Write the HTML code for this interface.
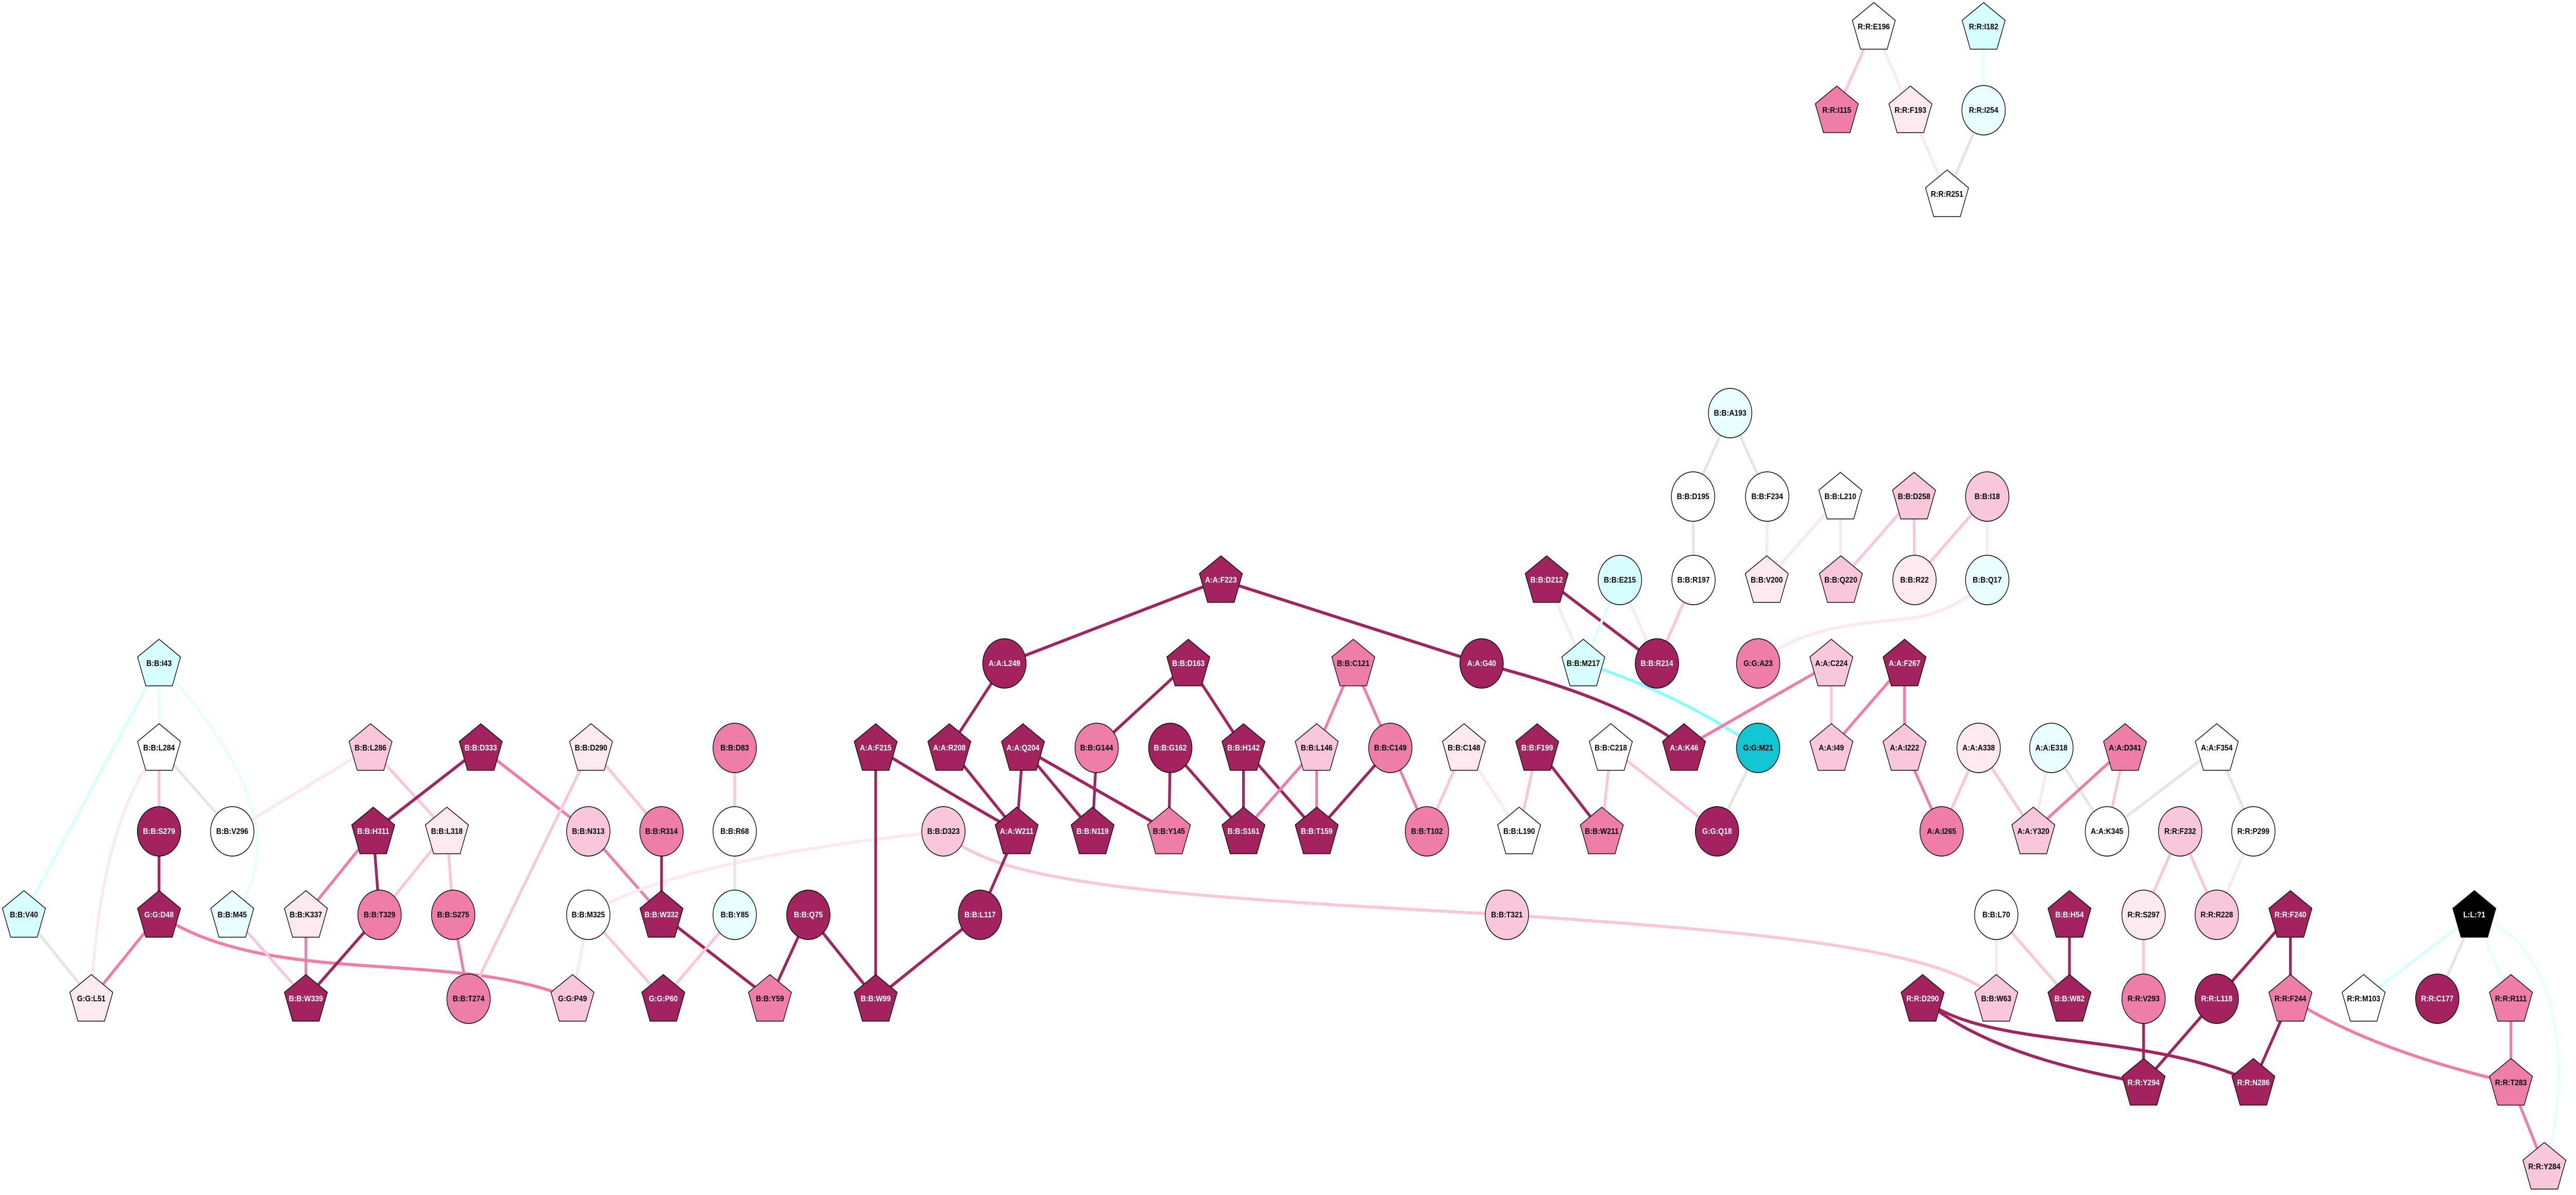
<!DOCTYPE html>
<html><head><meta charset="utf-8"><style>
html,body{margin:0;padding:0;background:#fff;width:100%;height:100%;overflow:hidden}
svg{display:block;width:100vw;height:100vh}
text{font-family:"Liberation Sans",Arial,sans-serif;font-weight:bold;font-size:16px;text-anchor:middle;dominant-baseline:central}
.w{fill:#fff}
</style></head><body>
<svg viewBox="0 0 5701 2320" preserveAspectRatio="none" xmlns="http://www.w3.org/2000/svg">
<defs>
<polygon id="pg" points="0,-50 47.6,-15.5 29.4,40.5 -29.4,40.5 -47.6,-15.5" stroke="#000" stroke-width="1.5"/>
</defs>
<g fill="none" stroke-width="6" stroke-linecap="round">
<line x1="4147" y1="52" x2="4065" y2="214" stroke="#f9c6db"/>
<line x1="4147" y1="52" x2="4228" y2="214" stroke="#fbe8f0"/>
<line x1="4228" y1="214" x2="4309" y2="377" stroke="#fbe8f0"/>
<line x1="4390" y1="52" x2="4390" y2="214" stroke="#e8fefe"/>
<line x1="4390" y1="214" x2="4309" y2="377" stroke="#e5e5e5"/>
<line x1="352" y1="1288" x2="53" y2="1776" stroke="#d6ffff"/>
<line x1="352" y1="1288" x2="352" y2="1452" stroke="#e8fefe"/>
<path d="M352,1288 Q680,1600 514,1776" stroke="#e8fefe"/>
<line x1="352" y1="1452" x2="352" y2="1614" stroke="#f9c6db"/>
<line x1="352" y1="1452" x2="514" y2="1614" stroke="#e5e5e5"/>
<path d="M352,1452 Q220,1600 202,1939" stroke="#fbe8f0"/>
<line x1="352" y1="1614" x2="352" y2="1776" stroke="#a2235d"/>
<line x1="53" y1="1776" x2="202" y2="1939" stroke="#e5e5e5"/>
<line x1="352" y1="1776" x2="202" y2="1939" stroke="#f07ca9"/>
<path d="M352,1776 C600,1920 1000,1840 1267,1939" stroke="#f07ca9"/>
<line x1="514" y1="1776" x2="677" y2="1939" stroke="#f9c6db"/>
<line x1="820" y1="1452" x2="514" y2="1614" stroke="#fbe8f0"/>
<line x1="820" y1="1452" x2="989" y2="1614" stroke="#f9c6db"/>
<line x1="1064" y1="1452" x2="826" y2="1614" stroke="#a2235d"/>
<line x1="1064" y1="1452" x2="1302" y2="1614" stroke="#f07ca9"/>
<line x1="1308" y1="1452" x2="1037" y2="1939" stroke="#f9c6db"/>
<line x1="1308" y1="1452" x2="1464" y2="1614" stroke="#f9c6db"/>
<line x1="826" y1="1614" x2="677" y2="1776" stroke="#f07ca9"/>
<line x1="826" y1="1614" x2="840" y2="1776" stroke="#a2235d"/>
<line x1="989" y1="1614" x2="840" y2="1776" stroke="#f9c6db"/>
<line x1="989" y1="1614" x2="1003" y2="1776" stroke="#f9c6db"/>
<line x1="677" y1="1776" x2="677" y2="1939" stroke="#f07ca9"/>
<line x1="840" y1="1776" x2="677" y2="1939" stroke="#a2235d"/>
<line x1="1003" y1="1776" x2="1037" y2="1939" stroke="#f07ca9"/>
<line x1="1302" y1="1614" x2="1464" y2="1776" stroke="#f07ca9"/>
<line x1="1302" y1="1776" x2="1267" y2="1939" stroke="#fbe8f0"/>
<line x1="1302" y1="1776" x2="1468" y2="1939" stroke="#f9c6db"/>
<path d="M2088,1614 C1800,1640 1450,1690 1302,1776" stroke="#fbe8f0"/>
<path d="M2088,1614 C2200,1720 2600,1740 3335,1776" stroke="#f9c6db"/>
<path d="M3335,1776 C3900,1810 4300,1840 4418,1939" stroke="#f9c6db"/>
<line x1="2702" y1="1126" x2="2223" y2="1288" stroke="#a2235d"/>
<line x1="2702" y1="1126" x2="3279" y2="1288" stroke="#a2235d"/>
<line x1="2223" y1="1288" x2="2101" y2="1452" stroke="#a2235d"/>
<line x1="2630" y1="1288" x2="2427" y2="1452" stroke="#a2235d"/>
<line x1="2630" y1="1288" x2="2752" y2="1452" stroke="#a2235d"/>
<line x1="1626" y1="1452" x2="1626" y2="1614" stroke="#f9c6db"/>
<line x1="1626" y1="1614" x2="1626" y2="1776" stroke="#e5e5e5"/>
<line x1="1938" y1="1452" x2="1938" y2="1939" stroke="#a2235d"/>
<path d="M1938,1452 Q2120,1550 2250,1614" stroke="#a2235d"/>
<line x1="2101" y1="1452" x2="2250" y2="1614" stroke="#a2235d"/>
<line x1="2264" y1="1452" x2="2250" y2="1614" stroke="#a2235d"/>
<line x1="2264" y1="1452" x2="2418" y2="1614" stroke="#a2235d"/>
<line x1="2264" y1="1452" x2="2587" y2="1614" stroke="#a2235d"/>
<line x1="2427" y1="1452" x2="2418" y2="1614" stroke="#a2235d"/>
<line x1="2590" y1="1452" x2="2587" y2="1614" stroke="#a2235d"/>
<line x1="2590" y1="1452" x2="2752" y2="1614" stroke="#a2235d"/>
<line x1="2752" y1="1452" x2="2752" y2="1614" stroke="#a2235d"/>
<line x1="2752" y1="1452" x2="2914" y2="1614" stroke="#a2235d"/>
<line x1="2752" y1="1614" x2="2914" y2="1452" stroke="#f07ca9"/>
<line x1="1464" y1="1614" x2="1464" y2="1776" stroke="#a2235d"/>
<line x1="1464" y1="1776" x2="1704" y2="1939" stroke="#a2235d"/>
<line x1="1626" y1="1776" x2="1468" y2="1939" stroke="#f9c6db"/>
<line x1="1789" y1="1776" x2="1704" y2="1939" stroke="#a2235d"/>
<line x1="1789" y1="1776" x2="1938" y2="1939" stroke="#a2235d"/>
<line x1="2169" y1="1776" x2="1938" y2="1939" stroke="#a2235d"/>
<line x1="2250" y1="1614" x2="2169" y2="1776" stroke="#a2235d"/>
<path d="M3279,1288 Q3600,1360 3727,1452" stroke="#a2235d"/>
<line x1="2995" y1="1288" x2="2914" y2="1452" stroke="#f07ca9"/>
<line x1="2995" y1="1288" x2="3077" y2="1452" stroke="#f07ca9"/>
<line x1="2914" y1="1452" x2="2914" y2="1614" stroke="#f07ca9"/>
<line x1="3077" y1="1452" x2="2914" y2="1614" stroke="#a2235d"/>
<line x1="3077" y1="1452" x2="3158" y2="1614" stroke="#f07ca9"/>
<line x1="3240" y1="1452" x2="3158" y2="1614" stroke="#f9c6db"/>
<line x1="3240" y1="1452" x2="3362" y2="1614" stroke="#fbe8f0"/>
<line x1="3402" y1="1452" x2="3362" y2="1614" stroke="#f9c6db"/>
<line x1="3402" y1="1452" x2="3545" y2="1614" stroke="#a2235d"/>
<line x1="3565" y1="1452" x2="3545" y2="1614" stroke="#f9c6db"/>
<line x1="3565" y1="1452" x2="3800" y2="1614" stroke="#f9c6db"/>
<line x1="3891" y1="1452" x2="3800" y2="1614" stroke="#e5e5e5"/>
<line x1="3423" y1="1126" x2="3504" y2="1288" stroke="#fbe8f0"/>
<line x1="3423" y1="1126" x2="3667" y2="1288" stroke="#a2235d"/>
<line x1="3585" y1="1126" x2="3504" y2="1288" stroke="#d6ffff"/>
<line x1="3585" y1="1126" x2="3667" y2="1288" stroke="#fbe8f0"/>
<line x1="3748" y1="1126" x2="3667" y2="1288" stroke="#f9c6db"/>
<path d="M3504,1288 Q3700,1340 3891,1452" stroke="#88ffff"/>
<path d="M3727,1452 Q3950,1340 4053,1288" stroke="#f07ca9"/>
<line x1="4053" y1="1288" x2="4053" y2="1452" stroke="#f9c6db"/>
<line x1="4215" y1="1288" x2="4053" y2="1452" stroke="#f07ca9"/>
<line x1="4215" y1="1288" x2="4215" y2="1452" stroke="#f07ca9"/>
<path d="M3891,1288 C4000,1200 4200,1210 4260,1195 S4360,1160 4398,1126" stroke="#fbe8f0"/>
<line x1="3829" y1="802" x2="3747" y2="964" stroke="#e5e5e5"/>
<line x1="3829" y1="802" x2="3911" y2="964" stroke="#e5e5e5"/>
<line x1="3747" y1="964" x2="3748" y2="1126" stroke="#e5e5e5"/>
<line x1="3911" y1="964" x2="3910" y2="1126" stroke="#fbe8f0"/>
<line x1="4073" y1="964" x2="3910" y2="1126" stroke="#fbe8f0"/>
<line x1="4073" y1="964" x2="4074" y2="1126" stroke="#fbe8f0"/>
<line x1="4236" y1="964" x2="4074" y2="1126" stroke="#f9c6db"/>
<line x1="4236" y1="964" x2="4237" y2="1126" stroke="#f9c6db"/>
<line x1="4398" y1="964" x2="4237" y2="1126" stroke="#f9c6db"/>
<line x1="4398" y1="964" x2="4398" y2="1126" stroke="#fbe8f0"/>
<line x1="4215" y1="1452" x2="4297" y2="1614" stroke="#f07ca9"/>
<line x1="4379" y1="1452" x2="4297" y2="1614" stroke="#f9c6db"/>
<line x1="4379" y1="1452" x2="4500" y2="1614" stroke="#f9c6db"/>
<line x1="4540" y1="1452" x2="4500" y2="1614" stroke="#fbe8f0"/>
<line x1="4540" y1="1452" x2="4663" y2="1614" stroke="#e5e5e5"/>
<line x1="4703" y1="1452" x2="4500" y2="1614" stroke="#f07ca9"/>
<line x1="4703" y1="1452" x2="4663" y2="1614" stroke="#f9c6db"/>
<line x1="4906" y1="1452" x2="4663" y2="1614" stroke="#e5e5e5"/>
<line x1="4906" y1="1452" x2="4987" y2="1614" stroke="#e5e5e5"/>
<line x1="4825" y1="1614" x2="4744" y2="1776" stroke="#f9c6db"/>
<line x1="4825" y1="1614" x2="4906" y2="1776" stroke="#f9c6db"/>
<line x1="4987" y1="1614" x2="4906" y2="1776" stroke="#fbe8f0"/>
<line x1="4418" y1="1776" x2="4418" y2="1939" stroke="#fbe8f0"/>
<line x1="4418" y1="1776" x2="4580" y2="1939" stroke="#f9c6db"/>
<line x1="4580" y1="1776" x2="4580" y2="1939" stroke="#a2235d"/>
<line x1="4744" y1="1776" x2="4744" y2="1939" stroke="#f9c6db"/>
<line x1="4744" y1="1939" x2="4744" y2="2102" stroke="#a2235d"/>
<line x1="5069" y1="1776" x2="4906" y2="1939" stroke="#a2235d"/>
<line x1="5069" y1="1776" x2="5069" y2="1939" stroke="#a2235d"/>
<line x1="4906" y1="1939" x2="4744" y2="2102" stroke="#a2235d"/>
<line x1="5069" y1="1939" x2="4987" y2="2102" stroke="#a2235d"/>
<path d="M5069,1939 Q5250,2040 5557,2102" stroke="#f07ca9"/>
<path d="M4255,1939 Q4400,2050 4744,2102" stroke="#a2235d"/>
<path d="M4255,1939 C4400,2040 4750,2000 4987,2102" stroke="#a2235d"/>
<line x1="5476" y1="1776" x2="5231" y2="1939" stroke="#d6ffff"/>
<line x1="5476" y1="1776" x2="5394" y2="1939" stroke="#e5e5e5"/>
<line x1="5476" y1="1776" x2="5557" y2="1939" stroke="#e8fefe"/>
<path d="M5476,1776 C5700,1840 5680,2150 5631,2265" stroke="#e8fefe"/>
<line x1="5557" y1="1939" x2="5557" y2="2102" stroke="#f07ca9"/>
<line x1="5557" y1="2102" x2="5631" y2="2265" stroke="#f07ca9"/>
</g>
<g stroke="#000" stroke-width="1.5">
<use href="#pg" x="4147" y="55" fill="#fff"/>
<use href="#pg" x="4390" y="55" fill="#d6ffff"/>
<use href="#pg" x="4065" y="217" fill="#f07ca9"/>
<use href="#pg" x="4228" y="217" fill="#fbe8f0"/>
<use href="#pg" x="4309" y="380" fill="#fff"/>
<use href="#pg" x="352" y="1291" fill="#d6ffff"/>
<use href="#pg" x="352" y="1455" fill="#fff"/>
<use href="#pg" x="820" y="1455" fill="#f9c6db"/>
<use href="#pg" x="1064" y="1455" fill="#a2235d"/>
<use href="#pg" x="1308" y="1455" fill="#fbe8f0"/>
<use href="#pg" x="826" y="1617" fill="#a2235d"/>
<use href="#pg" x="989" y="1617" fill="#fbe8f0"/>
<use href="#pg" x="53" y="1779" fill="#d6ffff"/>
<use href="#pg" x="352" y="1779" fill="#a2235d"/>
<use href="#pg" x="514" y="1779" fill="#e8fefe"/>
<use href="#pg" x="677" y="1779" fill="#fbe8f0"/>
<use href="#pg" x="202" y="1942" fill="#fbe8f0"/>
<use href="#pg" x="677" y="1942" fill="#a2235d"/>
<use href="#pg" x="1267" y="1942" fill="#f9c6db"/>
<use href="#pg" x="2702" y="1129" fill="#a2235d"/>
<use href="#pg" x="2630" y="1291" fill="#a2235d"/>
<use href="#pg" x="1938" y="1455" fill="#a2235d"/>
<use href="#pg" x="2101" y="1455" fill="#a2235d"/>
<use href="#pg" x="2264" y="1455" fill="#a2235d"/>
<use href="#pg" x="2752" y="1455" fill="#a2235d"/>
<use href="#pg" x="2250" y="1617" fill="#a2235d"/>
<use href="#pg" x="2418" y="1617" fill="#a2235d"/>
<use href="#pg" x="2587" y="1617" fill="#f07ca9"/>
<use href="#pg" x="2752" y="1617" fill="#a2235d"/>
<use href="#pg" x="1464" y="1779" fill="#a2235d"/>
<use href="#pg" x="1468" y="1942" fill="#a2235d"/>
<use href="#pg" x="1704" y="1942" fill="#f07ca9"/>
<use href="#pg" x="1938" y="1942" fill="#a2235d"/>
<use href="#pg" x="3423" y="1129" fill="#a2235d"/>
<use href="#pg" x="3910" y="1129" fill="#fbe8f0"/>
<use href="#pg" x="4074" y="1129" fill="#f9c6db"/>
<use href="#pg" x="4073" y="967" fill="#fff"/>
<use href="#pg" x="4236" y="967" fill="#f9c6db"/>
<use href="#pg" x="2995" y="1291" fill="#f07ca9"/>
<use href="#pg" x="3504" y="1291" fill="#d6ffff"/>
<use href="#pg" x="4053" y="1291" fill="#f9c6db"/>
<use href="#pg" x="4215" y="1291" fill="#a2235d"/>
<use href="#pg" x="2914" y="1455" fill="#f9c6db"/>
<use href="#pg" x="3240" y="1455" fill="#fbe8f0"/>
<use href="#pg" x="3402" y="1455" fill="#a2235d"/>
<use href="#pg" x="3565" y="1455" fill="#fff"/>
<use href="#pg" x="3727" y="1455" fill="#a2235d"/>
<use href="#pg" x="4053" y="1455" fill="#f9c6db"/>
<use href="#pg" x="4215" y="1455" fill="#f9c6db"/>
<use href="#pg" x="2914" y="1617" fill="#a2235d"/>
<use href="#pg" x="3362" y="1617" fill="#fff"/>
<use href="#pg" x="3545" y="1617" fill="#f07ca9"/>
<use href="#pg" x="4255" y="1942" fill="#a2235d"/>
<use href="#pg" x="4703" y="1455" fill="#f07ca9"/>
<use href="#pg" x="4906" y="1455" fill="#fff"/>
<use href="#pg" x="4500" y="1617" fill="#f9c6db"/>
<use href="#pg" x="4580" y="1779" fill="#a2235d"/>
<use href="#pg" x="5069" y="1779" fill="#a2235d"/>
<use href="#pg" x="5476" y="1779" fill="#000"/>
<use href="#pg" x="4418" y="1942" fill="#f9c6db"/>
<use href="#pg" x="4580" y="1942" fill="#a2235d"/>
<use href="#pg" x="5069" y="1942" fill="#f07ca9"/>
<use href="#pg" x="5231" y="1942" fill="#fff"/>
<use href="#pg" x="5557" y="1942" fill="#f07ca9"/>
<use href="#pg" x="4744" y="2105" fill="#a2235d"/>
<use href="#pg" x="4987" y="2105" fill="#a2235d"/>
<use href="#pg" x="5557" y="2105" fill="#f07ca9"/>
<use href="#pg" x="5631" y="2268" fill="#f9c6db"/>
<ellipse cx="4390" cy="214" rx="48" ry="48" fill="#e8fefe"/>
<ellipse cx="352" cy="1614" rx="48" ry="48" fill="#a2235d"/>
<ellipse cx="514" cy="1614" rx="48" ry="48" fill="#fff"/>
<ellipse cx="1302" cy="1614" rx="48" ry="48" fill="#f9c6db"/>
<ellipse cx="840" cy="1776" rx="48" ry="48" fill="#f07ca9"/>
<ellipse cx="1003" cy="1776" rx="48" ry="48" fill="#f07ca9"/>
<ellipse cx="1302" cy="1776" rx="48" ry="48" fill="#fff"/>
<ellipse cx="1037" cy="1939" rx="48" ry="48" fill="#f07ca9"/>
<ellipse cx="2223" cy="1288" rx="48" ry="48" fill="#a2235d"/>
<ellipse cx="1626" cy="1452" rx="48" ry="48" fill="#f07ca9"/>
<ellipse cx="2427" cy="1452" rx="48" ry="48" fill="#f07ca9"/>
<ellipse cx="2590" cy="1452" rx="48" ry="48" fill="#a2235d"/>
<ellipse cx="1464" cy="1614" rx="48" ry="48" fill="#f07ca9"/>
<ellipse cx="1626" cy="1614" rx="48" ry="48" fill="#fff"/>
<ellipse cx="2088" cy="1614" rx="48" ry="48" fill="#f9c6db"/>
<ellipse cx="1626" cy="1776" rx="48" ry="48" fill="#e8fefe"/>
<ellipse cx="1789" cy="1776" rx="48" ry="48" fill="#a2235d"/>
<ellipse cx="2169" cy="1776" rx="48" ry="48" fill="#a2235d"/>
<ellipse cx="3829" cy="802" rx="48" ry="48" fill="#e8fefe"/>
<ellipse cx="3747" cy="964" rx="48" ry="48" fill="#fff"/>
<ellipse cx="3911" cy="964" rx="48" ry="48" fill="#fff"/>
<ellipse cx="4398" cy="964" rx="48" ry="48" fill="#f9c6db"/>
<ellipse cx="3585" cy="1126" rx="48" ry="48" fill="#d6ffff"/>
<ellipse cx="3748" cy="1126" rx="48" ry="48" fill="#fff"/>
<ellipse cx="4237" cy="1126" rx="48" ry="48" fill="#fbe8f0"/>
<ellipse cx="4398" cy="1126" rx="48" ry="48" fill="#e8fefe"/>
<ellipse cx="3279" cy="1288" rx="48" ry="48" fill="#a2235d"/>
<ellipse cx="3667" cy="1288" rx="48" ry="48" fill="#a2235d"/>
<ellipse cx="3891" cy="1288" rx="48" ry="48" fill="#f07ca9"/>
<ellipse cx="3077" cy="1452" rx="48" ry="48" fill="#f07ca9"/>
<ellipse cx="3891" cy="1452" rx="48" ry="48" fill="#11c6d0"/>
<ellipse cx="3158" cy="1614" rx="48" ry="48" fill="#f07ca9"/>
<ellipse cx="3800" cy="1614" rx="48" ry="48" fill="#a2235d"/>
<ellipse cx="3335" cy="1776" rx="48" ry="48" fill="#f9c6db"/>
<ellipse cx="4379" cy="1452" rx="48" ry="48" fill="#fbe8f0"/>
<ellipse cx="4540" cy="1452" rx="48" ry="48" fill="#e8fefe"/>
<ellipse cx="4297" cy="1614" rx="48" ry="48" fill="#f07ca9"/>
<ellipse cx="4663" cy="1614" rx="48" ry="48" fill="#fff"/>
<ellipse cx="4825" cy="1614" rx="48" ry="48" fill="#f9c6db"/>
<ellipse cx="4987" cy="1614" rx="48" ry="48" fill="#fff"/>
<ellipse cx="4418" cy="1776" rx="48" ry="48" fill="#fff"/>
<ellipse cx="4744" cy="1776" rx="48" ry="48" fill="#fbe8f0"/>
<ellipse cx="4906" cy="1776" rx="48" ry="48" fill="#f9c6db"/>
<ellipse cx="4744" cy="1939" rx="48" ry="48" fill="#f07ca9"/>
<ellipse cx="4906" cy="1939" rx="48" ry="48" fill="#a2235d"/>
<ellipse cx="5394" cy="1939" rx="48" ry="48" fill="#a2235d"/>
</g>
<g>
<text x="4147" y="52">R:R:E196</text>
<text x="4390" y="52">R:R:I182</text>
<text x="4065" y="214">R:R:I115</text>
<text x="4228" y="214">R:R:F193</text>
<text x="4390" y="214">R:R:I254</text>
<text x="4309" y="377">R:R:R251</text>
<text x="352" y="1288">B:B:I43</text>
<text x="352" y="1452">B:B:L284</text>
<text x="820" y="1452">B:B:L286</text>
<text x="1064" y="1452" class="w">B:B:D333</text>
<text x="1308" y="1452">B:B:D290</text>
<text x="352" y="1614" class="w">B:B:S279</text>
<text x="514" y="1614">B:B:V296</text>
<text x="826" y="1614" class="w">B:B:H311</text>
<text x="989" y="1614">B:B:L318</text>
<text x="1302" y="1614">B:B:N313</text>
<text x="53" y="1776">B:B:V40</text>
<text x="352" y="1776" class="w">G:G:D48</text>
<text x="514" y="1776">B:B:M45</text>
<text x="677" y="1776">B:B:K337</text>
<text x="840" y="1776">B:B:T329</text>
<text x="1003" y="1776">B:B:S275</text>
<text x="1302" y="1776">B:B:M325</text>
<text x="202" y="1939">G:G:L51</text>
<text x="677" y="1939" class="w">B:B:W339</text>
<text x="1037" y="1939">B:B:T274</text>
<text x="1267" y="1939">G:G:P49</text>
<text x="2702" y="1126" class="w">A:A:F223</text>
<text x="2223" y="1288" class="w">A:A:L249</text>
<text x="2630" y="1288" class="w">B:B:D163</text>
<text x="1626" y="1452">B:B:D83</text>
<text x="1938" y="1452" class="w">A:A:F215</text>
<text x="2101" y="1452" class="w">A:A:R208</text>
<text x="2264" y="1452" class="w">A:A:Q204</text>
<text x="2427" y="1452">B:B:G144</text>
<text x="2590" y="1452" class="w">B:B:G162</text>
<text x="2752" y="1452" class="w">B:B:H142</text>
<text x="1464" y="1614">B:B:R314</text>
<text x="1626" y="1614">B:B:R68</text>
<text x="2088" y="1614">B:B:D323</text>
<text x="2250" y="1614" class="w">A:A:W211</text>
<text x="2418" y="1614" class="w">B:B:N119</text>
<text x="2587" y="1614">B:B:Y145</text>
<text x="2752" y="1614" class="w">B:B:S161</text>
<text x="1464" y="1776" class="w">B:B:W332</text>
<text x="1626" y="1776">B:B:Y85</text>
<text x="1789" y="1776" class="w">B:B:Q75</text>
<text x="2169" y="1776" class="w">B:B:L117</text>
<text x="1468" y="1939" class="w">G:G:P60</text>
<text x="1704" y="1939">B:B:Y59</text>
<text x="1938" y="1939" class="w">B:B:W99</text>
<text x="3829" y="802">B:B:A193</text>
<text x="3747" y="964">B:B:D195</text>
<text x="3911" y="964">B:B:F234</text>
<text x="4073" y="964">B:B:L210</text>
<text x="4236" y="964">B:B:D258</text>
<text x="4398" y="964">B:B:I18</text>
<text x="3423" y="1126" class="w">B:B:D212</text>
<text x="3585" y="1126">B:B:E215</text>
<text x="3748" y="1126">B:B:R197</text>
<text x="3910" y="1126">B:B:V200</text>
<text x="4074" y="1126">B:B:Q220</text>
<text x="4237" y="1126">B:B:R22</text>
<text x="4398" y="1126">B:B:Q17</text>
<text x="2995" y="1288">B:B:C121</text>
<text x="3279" y="1288" class="w">A:A:G40</text>
<text x="3504" y="1288">B:B:M217</text>
<text x="3667" y="1288" class="w">B:B:R214</text>
<text x="3891" y="1288">G:G:A23</text>
<text x="4053" y="1288">A:A:C224</text>
<text x="4215" y="1288" class="w">A:A:F267</text>
<text x="2914" y="1452">B:B:L146</text>
<text x="3077" y="1452">B:B:C149</text>
<text x="3240" y="1452">B:B:C148</text>
<text x="3402" y="1452" class="w">B:B:F199</text>
<text x="3565" y="1452">B:B:C218</text>
<text x="3727" y="1452" class="w">A:A:K46</text>
<text x="3891" y="1452">G:G:M21</text>
<text x="4053" y="1452">A:A:I49</text>
<text x="4215" y="1452">A:A:I222</text>
<text x="2914" y="1614" class="w">B:B:T159</text>
<text x="3158" y="1614">B:B:T102</text>
<text x="3362" y="1614">B:B:L190</text>
<text x="3545" y="1614">B:B:W211</text>
<text x="3800" y="1614" class="w">G:G:Q18</text>
<text x="3335" y="1776">B:B:T321</text>
<text x="4255" y="1939" class="w">R:R:D290</text>
<text x="4379" y="1452">A:A:A338</text>
<text x="4540" y="1452">A:A:E318</text>
<text x="4703" y="1452">A:A:D341</text>
<text x="4906" y="1452">A:A:F354</text>
<text x="4297" y="1614">A:A:I265</text>
<text x="4500" y="1614">A:A:Y320</text>
<text x="4663" y="1614">A:A:K345</text>
<text x="4825" y="1614">R:R:F232</text>
<text x="4987" y="1614">R:R:P299</text>
<text x="4418" y="1776">B:B:L70</text>
<text x="4580" y="1776" class="w">B:B:H54</text>
<text x="4744" y="1776">R:R:S297</text>
<text x="4906" y="1776">R:R:R228</text>
<text x="5069" y="1776" class="w">R:R:F240</text>
<text x="5476" y="1776" class="w">L:L:?1</text>
<text x="4418" y="1939">B:B:W63</text>
<text x="4580" y="1939" class="w">B:B:W82</text>
<text x="4744" y="1939">R:R:V293</text>
<text x="4906" y="1939" class="w">R:R:L118</text>
<text x="5069" y="1939">R:R:F244</text>
<text x="5231" y="1939">R:R:M103</text>
<text x="5394" y="1939" class="w">R:R:C177</text>
<text x="5557" y="1939">R:R:R111</text>
<text x="4744" y="2102" class="w">R:R:Y294</text>
<text x="4987" y="2102" class="w">R:R:N286</text>
<text x="5557" y="2102">R:R:T283</text>
<text x="5631" y="2265">R:R:Y284</text>
</g>
</svg>
</body></html>
